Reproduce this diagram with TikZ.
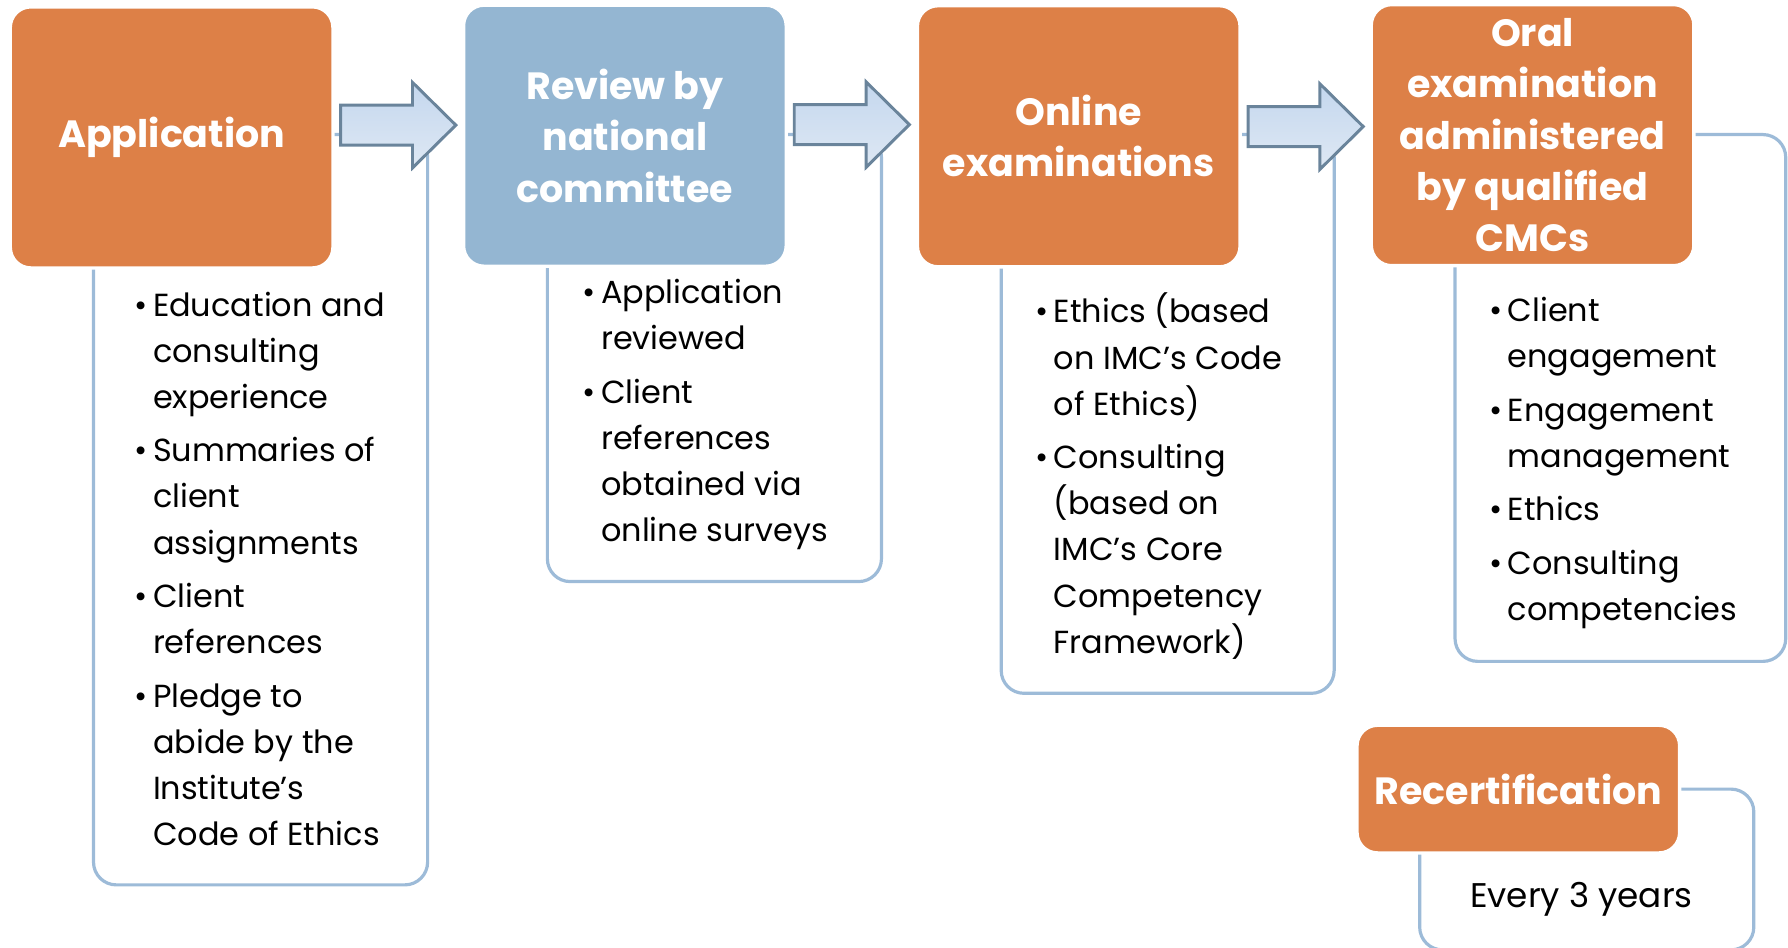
\documentclass[tikz,border=0pt]{standalone}
\usepackage{fontspec}
\setmainfont{Poppins}
\usetikzlibrary{calc}
\definecolor{orng}{HTML}{DD8047}
\definecolor{blu}{HTML}{94B6D2}
\definecolor{frm}{HTML}{9DBBD8}
\definecolor{arrb}{HTML}{6A849B}
\definecolor{arrtop}{HTML}{C4D7EE}
\definecolor{arrbot}{HTML}{DEE8F4}
\newcommand\hfnt{\fontsize{33.3}{45}\selectfont\bfseries}
\newcommand\bfnt{\fontsize{28}{40.5}\selectfont}
\newcommand\bul{\makebox[16pt][l]{\textbullet}}
\newcommand\ind{\hspace*{16pt}}
\begin{document}
\begin{tikzpicture}[x=1pt,y=-1pt,
  stepbox/.style={rectangle, rounded corners=18pt, draw=white, line width=3pt,
    minimum width=283pt, minimum height=229pt, inner sep=0pt, text=white,
    align=center, font=\hfnt},
  orangebox/.style={stepbox, fill=orng},
  bluebox/.style={stepbox, fill=blu},
  framebox/.style={rectangle, draw=frm, line width=2.8pt, rounded corners=20pt, inner sep=0pt},
  listtext/.style={anchor=north west, inner sep=0pt, align=left, font=\bfnt, text=black},
  bigarrow/.style={draw=arrb, line width=2.6pt, top color=arrtop, bottom color=arrbot, line join=miter}
]
\useasboundingbox (0,0) rectangle (1568,831);
% frames
\node[framebox, minimum width=293pt, minimum height=658pt] (f1) at (228.5,447) {};
\node[framebox, minimum width=293pt, minimum height=392pt] (f2) at (626.5,314) {};
\node[framebox, minimum width=292pt, minimum height=490pt] (f3) at (1024,363) {};
\node[framebox, minimum width=290pt, minimum height=462pt] (f4) at (1421,349) {};
\node[framebox, minimum width=293pt, minimum height=141pt] (f5) at (1391.5,762.5) {};
% step boxes
\node[orangebox] (app) at (150.5,120.5) {Application};
\node[bluebox] (rev) at (548,119) {Review by\\national\\committee};
\node[orangebox] (onl) at (946,119.5) {Online\\examinations};
\node[orangebox] (oral) at (1344,118.5) {Oral\\examination\\administered\\by qualified\\CMCs};
\node[orangebox, minimum height=112pt] (rec) at (1331.5,692) {Recertification};
% arrows
\coordinate (a1) at ($(app.east)!0.5!(rev.west)+(0,-10)$);
\coordinate (a2) at ($(rev.east)!0.5!(onl.west)+(0,-10)$);
\coordinate (a3) at ($(onl.east)!0.5!(oral.west)+(0,-8)$);
\foreach \a in {a1,a2,a3}{
  \draw[bigarrow] ($(\a)+(-50.5,-17.5)$) -- ++(63,0) -- ++(0,-20) -- ++(38,37.5)
    -- ++(-38,37.5) -- ++(0,-20) -- ++(-63,0) -- cycle;
}
% lists
\node[listtext] (l1) at (118,248.6) {\strut\bul Education and\\\ind consulting\\\ind experience\\[6.3pt]
  \bul Summaries of\\\ind client\\\ind assignments\\[6.3pt]
  \bul Client\\\ind references\\[6.3pt]
  \bul Pledge to\\\ind abide by the\\\ind Institute’s\\\ind Code of Ethics};
\node[listtext] (l2) at (511,237.6) {\strut\bul Application\\\ind reviewed\\[6.3pt]
  \bul Client\\\ind references\\\ind obtained via\\\ind online surveys};
\node[listtext] (l3) at (908,254.6) {\strut\bul Ethics (based\\\ind on IMC’s Code\\\ind of Ethics)\\[6.3pt]
  \bul Consulting\\\ind (based on\\\ind IMC’s Core\\\ind Competency\\\ind Framework)};
\node[listtext] (l4) at (1306,253.6) {\strut\bul Client\\\ind engagement\\[6.3pt]
  \bul Engagement\\\ind management\\[6.3pt]
  \bul Ethics\\[6.3pt]
  \bul Consulting\\\ind competencies};
\node[listtext, anchor=west, font=\fontsize{30}{40}\selectfont] (l5) at (1289,789) {Every 3 years};
\end{tikzpicture}
\end{document}
